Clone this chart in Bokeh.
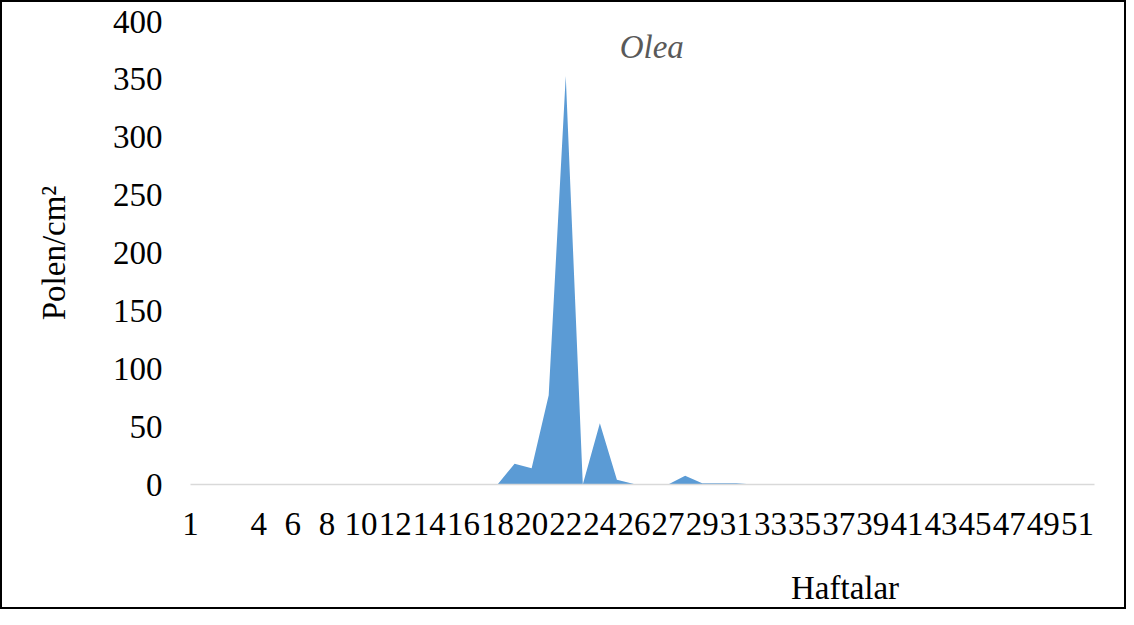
from bokeh.plotting import figure
from bokeh.models import Range1d, FixedTicker, Label, LinearAxis, ColumnDataSource
from bokeh.embed import file_html
from bokeh.resources import INLINE

# Category labels of the x axis (weeks); blanks are unlabeled categories in the source
weeks = ["1", "2", "", "3"] + [str(k) for k in range(4, 27)] + [""] + [str(k) for k in range(27, 53)]
# Pollen counts per category
pollen = [0] * 18 + [0, 18, 14, 77, 353, 0, 53, 4, 0.5, 0, 0, 7.5, 1, 1, 1] + [0] * 21
y_ticks = [0, 50, 100, 150, 200, 250, 300, 350, 400]

idx = list(range(len(weeks)))
src = ColumnDataSource(dict(x=idx, y=pollen))

FONT = "Liberation Serif"
FS = "33px"

p = figure(width=1126, height=609, output_backend="svg", toolbar_location=None,
           x_range=Range1d(0, len(weeks) - 1), y_range=Range1d(0, 400),
           min_border_left=188, min_border_right=34, min_border_top=19, min_border_bottom=127)
p.outline_line_color = None
p.xgrid.visible = False
p.ygrid.visible = False
p.styles = {"border": "2px solid black", "box-sizing": "border-box"}

p.varea(x="x", y1=0, y2="y", source=src, fill_color="#5B9BD5")

# x axis
p.xaxis.ticker = FixedTicker(ticks=idx[::2])
p.xaxis.major_label_overrides = {i: weeks[i] for i in idx[::2]}
p.xaxis.axis_line_color = "#d9d9d9"
p.xaxis.axis_line_width = 1.5
p.xaxis.major_tick_line_color = None
p.xaxis.minor_tick_line_color = None
p.xaxis.major_label_standoff = 22
p.xaxis.major_label_text_font = FONT
p.xaxis.major_label_text_font_size = FS
p.xaxis.major_label_text_color = "black"

# x axis title, sitting right of centre as in the source (a single labelled tick)
TITLE_X = 38.375
xt = LinearAxis(ticker=FixedTicker(ticks=[TITLE_X]), major_label_overrides={TITLE_X: "Haftalar"},
                axis_line_color=None, major_tick_line_color=None, minor_tick_line_color=None,
                major_tick_out=0, minor_tick_out=0, major_tick_in=0, minor_tick_in=0,
                major_label_standoff=32,
                major_label_text_font=FONT, major_label_text_font_size=FS,
                major_label_text_color="black")
p.add_layout(xt, "below")

# y axis
p.yaxis.ticker = FixedTicker(ticks=y_ticks)
p.yaxis.axis_line_color = None
p.yaxis.major_tick_line_color = None
p.yaxis.minor_tick_line_color = None
p.yaxis.major_label_standoff = 22
p.yaxis.major_label_text_font = FONT
p.yaxis.major_label_text_font_size = FS
p.yaxis.major_label_text_color = "black"
p.yaxis.axis_label = "Polen/cm²"
p.yaxis.axis_label_text_font = FONT
p.yaxis.axis_label_text_font_size = FS
p.yaxis.axis_label_text_font_style = "normal"
p.yaxis.axis_label_text_color = "black"
p.yaxis.axis_label_standoff = 38

# title inside chart
p.add_layout(Label(x=27.04, y=378, text="Olea", text_font=FONT, text_font_size=FS,
                   text_font_style="italic", text_color="#595959",
                   text_align="center", text_baseline="middle"))

open("out.html", "w").write(file_html(p, INLINE))
